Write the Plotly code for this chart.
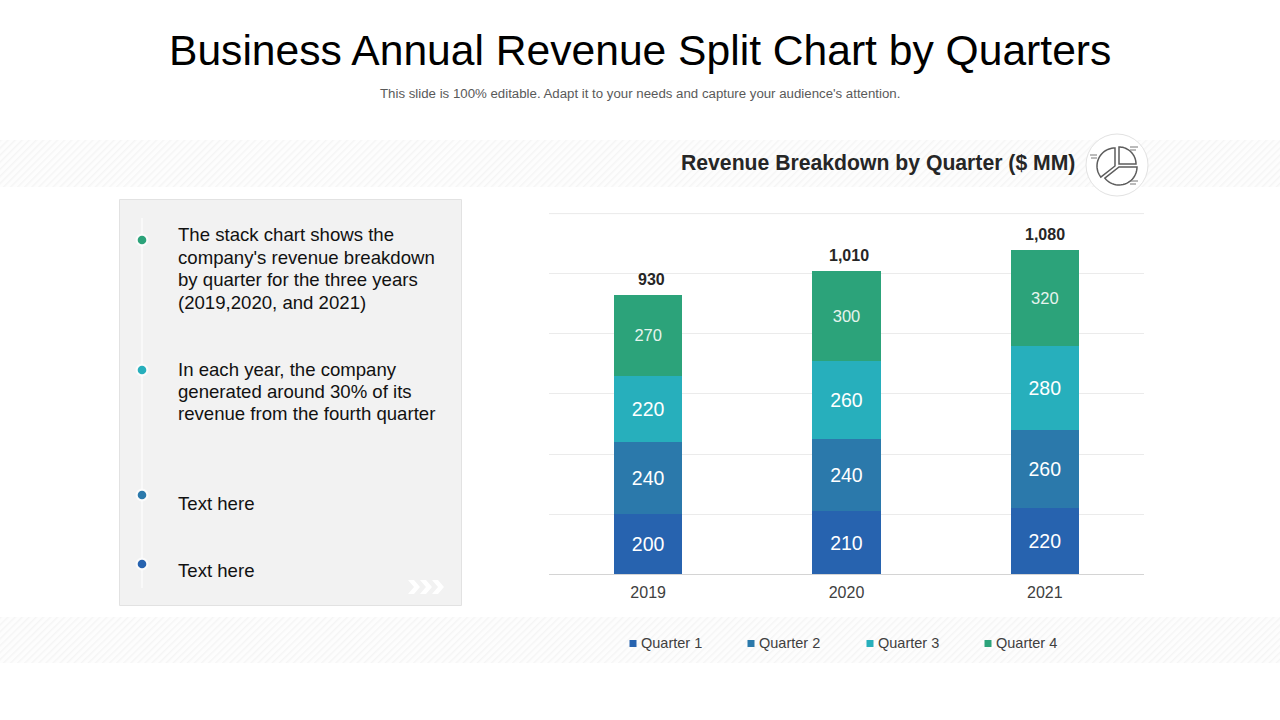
import base64
import math
import plotly.graph_objects as go

YEARS = ["2019", "2020", "2021"]
QUARTERS = ["Quarter 1", "Quarter 2", "Quarter 3", "Quarter 4"]
Q1 = [200, 210, 220]
Q2 = [240, 240, 260]
Q3 = [220, 260, 280]
Q4 = [270, 300, 320]
TOTALS = [930, 1010, 1080]
COLORS = ["#2763AF", "#2B79AB", "#27AFBC", "#2CA37A"]
TITLE = "Business Annual Revenue Split Chart by Quarters"
SUBTITLE = "This slide is 100% editable. Adapt it to your needs and capture your audience's attention."
HEADER = "Revenue Breakdown by Quarter ($ MM)"
PANEL_LINES = [
    ("The stack chart shows the", 234.5),
    ("company's revenue breakdown", 257),
    ("by quarter for the three years", 279.5),
    ("(2019,2020, and 2021)", 302),
    ("In each year, the company", 369.5),
    ("generated around 30% of its", 391.5),
    ("revenue from the fourth quarter", 413.5),
    ("Text here", 503),
    ("Text here", 570),
]
DOT_Y = [240, 370, 495, 564]
DOT_COLORS = ["#2CA37A", "#27AFBC", "#2B79AB", "#2763AF"]
LEGEND_X = [633, 751, 870, 988]
FONT = "Liberation Sans, Arial, sans-serif"
W, H = 1280, 720


def px(x):
    return x / W


def py(y):
    return 1 - y / H


def path(points, close=False):
    s = "M " + " L ".join(f"{px(a):.5f},{py(b):.5f}" for a, b in points)
    return s + (" Z" if close else "")


def arc(cx, cy, r, a0, a1, n=24):
    return [
        (cx + r * math.cos(math.radians(a0 + (a1 - a0) * i / n)),
         cy + r * math.sin(math.radians(a0 + (a1 - a0) * i / n)))
        for i in range(n + 1)
    ]


svg = (
    '<svg xmlns="http://www.w3.org/2000/svg" width="1280" height="47">'
    '<defs><pattern id="p" width="5" height="5" patternUnits="userSpaceOnUse" '
    'patternTransform="rotate(-45)"><rect width="5" height="5" fill="#fdfdfd"/>'
    '<rect width="5" height="1.4" fill="#f5f5f5"/></pattern></defs>'
    '<rect width="1280" height="47" fill="url(#p)"/></svg>'
)
band = "data:image/svg+xml;base64," + base64.b64encode(svg.encode()).decode()

fig = go.Figure()
for name, vals, color, size, tc in zip(QUARTERS, [Q1, Q2, Q3, Q4], COLORS, [19.5, 19.5, 19.5, 16.5],
                                       ["#ffffff", "#ffffff", "#ffffff", "#e6f4ee"]):
    fig.add_trace(go.Bar(
        x=YEARS, y=vals, name=name, marker=dict(color=color, line=dict(width=0)),
        text=vals, textposition="inside", insidetextanchor="middle", textangle=0,
        constraintext="none",
        textfont=dict(family=FONT, size=size, color=tc),
        showlegend=False,
    ))

shapes = [
    dict(type="rect", xref="paper", yref="paper", x0=px(119.5), x1=px(461.5), y0=py(605.5), y1=py(199.5),
         fillcolor="#f2f2f2", line=dict(color="#e2e2e2", width=1), layer="below"),
    dict(type="line", xref="paper", yref="paper", x0=px(142), x1=px(142), y0=py(218), y1=py(588),
         line=dict(color="#fbfbfb", width=1.5), layer="below"),
    dict(type="line", xref="paper", yref="y", x0=px(549), x1=px(1144), y0=1200, y1=1200,
         line=dict(color="#ebebeb", width=1), layer="below"),
]
for y, c in zip(DOT_Y, DOT_COLORS):
    shapes.append(dict(type="circle", xref="paper", yref="paper", x0=px(135.5), x1=px(148.5), y0=py(y + 6.5), y1=py(y - 6.5),
                       fillcolor="#ffffff", line=dict(width=0), opacity=0.7, layer="below"))
    shapes.append(dict(type="circle", xref="paper", yref="paper", x0=px(137.7), x1=px(146.3), y0=py(y + 4.3), y1=py(y - 4.3),
                       fillcolor=c, line=dict(width=0), layer="below"))
for x0 in [408, 420, 432]:
    shapes.append(dict(type="path", xref="paper", yref="paper", layer="below", fillcolor="#ffffff", line=dict(width=0),
                       path=path([(x0, 580), (x0 + 6, 580), (x0 + 12, 587), (x0 + 6, 594), (x0, 594), (x0 + 6, 587)], True)))

# icon in the header
shapes.append(dict(type="circle", xref="paper", yref="paper", x0=px(1086), x1=px(1148), y0=py(196), y1=py(134),
                   fillcolor="#ffffff", line=dict(color="#e2e2e2", width=1), layer="below"))
ink = dict(color="#5c5c5c", width=1.5)
shapes.append(dict(type="path", xref="paper", yref="paper", line=ink,
                   path=path([(1119, 147)] + arc(1119, 164, 17, -90, 0) + [(1119, 164)], True)))
shapes.append(dict(type="path", xref="paper", yref="paper", line=ink,
                   path=path([(1115, 148)] + arc(1115, 166, 18, -90, -218) + [(1115, 166)], True)))
shapes.append(dict(type="path", xref="paper", yref="paper", line=ink,
                   path=path([(1137, 167)] + arc(1119, 167, 18, 0, 142) + [(1119, 167)], True)))
for x0, x1, y in [(1090, 1097, 155), (1091, 1097, 158), (1130, 1138, 147), (1130, 1136, 150),
                  (1130, 1138, 181), (1130, 1136, 184)]:
    shapes.append(dict(type="line", xref="paper", yref="paper", x0=px(x0), x1=px(x1), y0=py(y), y1=py(y),
                       line=dict(color="#777777", width=1)))

annotations = [
    dict(text=TITLE, x=px(640), y=py(50.5), font=dict(size=42.6, color="#000000", family=FONT), xanchor="center"),
    dict(text=SUBTITLE, x=px(640), y=py(94), font=dict(size=13.25, color="#595959", family=FONT), xanchor="center"),
    dict(text=f"<b>{HEADER}</b>", x=px(1075.5), y=py(163), font=dict(size=21.2, color="#262626", family=FONT), xanchor="right"),
]
for line, y in PANEL_LINES:
    annotations.append(dict(text=line, x=px(176.5), y=py(y), font=dict(size=18.6, color="#111111", family=FONT), xanchor="left"))
for x, name, c in zip(LEGEND_X, QUARTERS, COLORS):
    shapes.append(dict(type="rect", xref="paper", yref="paper", x0=px(x - 3.5), x1=px(x + 3.5), y0=py(647), y1=py(640),
                       fillcolor=c, line=dict(width=0)))
    annotations.append(dict(text=name, x=px(x + 7), y=py(643), font=dict(size=14.5, color="#404040", family=FONT), xanchor="left"))
for a in annotations:
    a.update(xref="paper", yref="paper", yanchor="middle", showarrow=False, borderpad=0, align="left")
for i, (total, dx) in enumerate(zip(TOTALS, [3, 2, 0])):
    annotations.append(dict(text=f"<b>{total:,}</b>", x=i, y=total, xref="x", yref="y", showarrow=False,
                            yanchor="bottom", yshift=5, xshift=dx, font=dict(size=16, color="#262626", family=FONT)))

images = [
    dict(source=band, xref="paper", yref="paper", x=0, y=py(140), sizex=1, sizey=47 / H,
         sizing="stretch", layer="below", xanchor="left", yanchor="top"),
    dict(source=band, xref="paper", yref="paper", x=0, y=py(617), sizex=1, sizey=46 / H,
         sizing="stretch", layer="below", xanchor="left", yanchor="top"),
]

fig.update_layout(
    width=W, height=H, margin=dict(l=0, r=0, t=0, b=0), autosize=False,
    paper_bgcolor="#ffffff", plot_bgcolor="rgba(0,0,0,0)", showlegend=False,
    barmode="stack", bargap=0.655, font=dict(family=FONT),
    shapes=shapes, annotations=annotations, images=images,
    xaxis=dict(domain=[px(549), px(1144)], type="category", showgrid=False,
               ticks="outside", ticklen=4, tickcolor="rgba(0,0,0,0)",
               showline=True, linecolor="#d4d4d4", linewidth=1,
               tickfont=dict(size=16, color="#404040", family=FONT)),
    yaxis=dict(domain=[py(574.2), py(212.7)], range=[0, 1203], tick0=0, dtick=200, showticklabels=False,
               gridcolor="#ebebeb", gridwidth=1, zeroline=False, showline=False),
)
fig.write_html("out.html", config={"displayModeBar": False},
               post_script="document.body.style.margin='0';document.documentElement.style.overflow='hidden';")
